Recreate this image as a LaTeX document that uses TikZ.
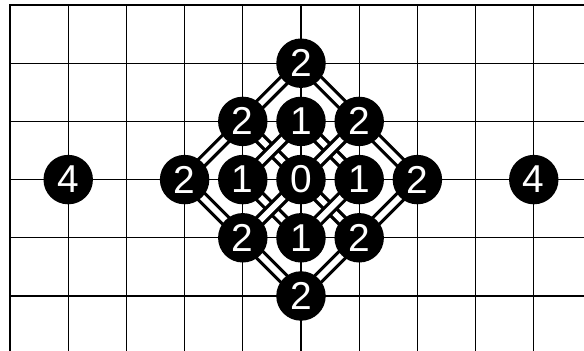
\documentclass[tikz,border=0pt]{standalone}
\usepackage{fontspec}
\setsansfont{Liberation Sans}
\usetikzlibrary{backgrounds}

\begin{document}
\begin{tikzpicture}[
      stone/.style={circle, fill=black, text=white, minimum size=0.85cm, inner sep=0pt,
                    font=\sffamily\fontsize{19}{19}\selectfont},
      link/.style={line width=1.6pt, double=white, double distance=2.8pt},
      gridline/.style={line width=0.6pt, line cap=rect}
    ]
      \useasboundingbox (-0.172,-5.945) rectangle (9.863,0.086);

      % the diamond
      \node[stone] (two-n)  at (5,-1) {2};
      \node[stone] (two-nw) at (4,-2) {2};
      \node[stone] (one-n)  at (5,-2) {1};
      \node[stone] (two-ne) at (6,-2) {2};
      \node[stone] (two-w)  at (3,-3) {2};
      \node[stone] (one-w)  at (4,-3) {1};
      \node[stone] (zero)   at (5,-3) {0};
      \node[stone] (one-e)  at (6,-3) {1};
      \node[stone] (two-e)  at (7,-3) {2};
      \node[stone] (two-sw) at (4,-4) {2};
      \node[stone] (one-s)  at (5,-4) {1};
      \node[stone] (two-se) at (6,-4) {2};
      \node[stone] (two-s)  at (5,-5) {2};

      % far ones
      \node[stone] (four-w) at (1,-3) {4};
      \node[stone] (four-e) at (9,-3) {4};

      \begin{scope}[on background layer]
        \foreach \y in {0,...,5}
          \draw[gridline] (0,-\y) -- (9.863,-\y);
        \foreach \x in {0,...,9}
          \draw[gridline] (\x,0) -- (\x,-5.945);

        \foreach \a/\b in {two-n/two-ne, two-ne/two-e, one-n/one-e,
                           two-nw/zero, zero/two-se, one-w/one-s,
                           two-w/two-sw, two-sw/two-s,
                           two-w/two-nw, two-nw/two-n, one-w/one-n,
                           two-sw/zero, zero/two-ne, one-s/one-e,
                           two-s/two-se, two-se/two-e}
          \draw[link] (\a.center) -- (\b.center);
      \end{scope}
\end{tikzpicture}
\end{document}
